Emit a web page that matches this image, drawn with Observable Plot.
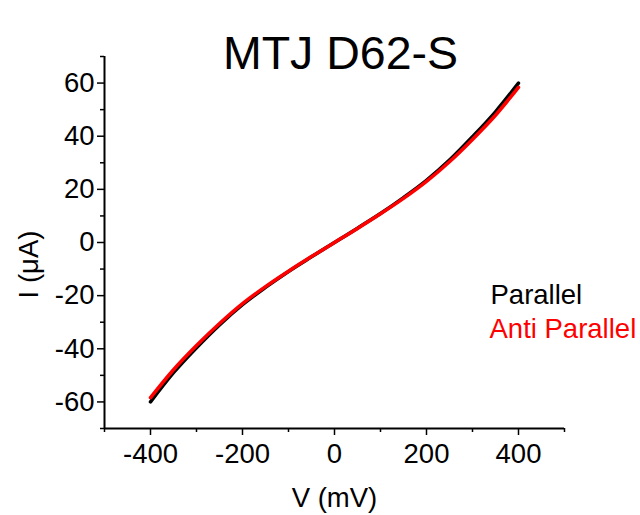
<!DOCTYPE html>
<html>
<head>
<meta charset="utf-8">
<script src="https://cdn.jsdelivr.net/npm/d3@7"></script>
<script src="https://cdn.jsdelivr.net/npm/@observablehq/plot@0.6"></script>
<style>
  html, body { margin: 0; padding: 0; background: #fff; }
  #chart svg { display: block; }
</style>
</head>
<body>
<div id="chart"></div>
<script>
const titleText = "MTJ D62-S";
const xLabel = "V (mV)";
const yLabel = "I (\u03BCA)";
const seriesNames = ["Parallel", "Anti Parallel"];
const seriesColors = ["#000000", "#ff0000"];

const voltage = [-400, -350, -300, -250, -200, -150, -100, -50, 0, 50, 100, 150, 200, 250, 300, 350, 400];
const iParallel = [-60.0, -49.0, -39.6, -31.0, -23.4, -16.9, -10.9, -5.4, 0, 5.4, 10.9, 16.9, 23.4, 31.0, 39.8, 49.2, 60.0];
const iAntiParallel = [-58.4, -47.9, -38.8, -30.5, -23.0, -16.6, -10.8, -5.3, 0, 5.3, 10.8, 16.6, 23.0, 30.4, 38.8, 47.9, 58.4];

const xMajorTicks = [-400, -200, 0, 200, 400];
const xMinorTicks = [-500, -300, -100, 100, 300, 500];
const yMajorTicks = [-60, -40, -20, 0, 20, 40, 60];
const yMinorTicks = [-70, -50, -30, -10, 10, 30, 50, 70];

const parallelData = voltage.map((v, i) => ({V: v, I: iParallel[i]}));
const antiData = voltage.map((v, i) => ({V: v, I: iAntiParallel[i]}));

const font = "'Liberation Sans', Arial, Helvetica, sans-serif";

const chart = Plot.plot({
  width: 640,
  height: 515,
  marginLeft: 104,
  marginRight: 76,
  marginTop: 56,
  marginBottom: 87,
  style: {fontFamily: font, fontSize: "27px", color: "#000", background: "#fff"},
  x: {domain: [-500, 500], label: null},
  y: {domain: [-70, 70], label: null},
  marks: [
    Plot.axisX({ticks: xMajorTicks, tickSize: 7, tickPadding: 8, fontSize: 27.5, strokeWidth: 1.5, label: null, tickFormat: d => String(d)}),
    Plot.axisX({ticks: xMinorTicks, tickSize: 4, strokeWidth: 1.5, text: null, label: null}),
    Plot.axisY({ticks: yMajorTicks, tickSize: 7, tickPadding: 3, fontSize: 27.5, strokeWidth: 1.5, label: null, tickFormat: d => String(d)}),
    Plot.axisY({ticks: yMinorTicks, tickSize: 4, strokeWidth: 1.5, text: null, label: null}),
    Plot.ruleX([-500], {y1: -70, y2: 70, stroke: "#000", strokeWidth: 2}),
    Plot.ruleY([-70], {x1: -500, x2: 500, stroke: "#000", strokeWidth: 2}),
    Plot.line(parallelData, {x: "V", y: "I", stroke: seriesColors[0], strokeWidth: 3.5, curve: "monotone-x"}),
    Plot.line(antiData, {x: "V", y: "I", stroke: seriesColors[1], strokeWidth: 3.5, curve: "monotone-x"}),
    Plot.text([titleText], {frameAnchor: "top-left", dx: 236, dy: 12.5, text: d => d, fontSize: 46.5, textAnchor: "middle", lineAnchor: "bottom", fill: "#000"}),
    Plot.text([xLabel], {frameAnchor: "bottom", dx: 0, dy: 78, text: d => d, fontSize: 27.5, textAnchor: "middle", lineAnchor: "bottom", fill: "#000"}),
    Plot.text([yLabel], {frameAnchor: "left", dx: -75, dy: 22, text: d => d, fontSize: 27.5, textAnchor: "middle", lineAnchor: "middle", rotate: -90, fill: "#000"}),
    Plot.text([seriesNames[0]], {frameAnchor: "top-left", dx: 386, dy: 247, text: d => d, fontSize: 27.5, textAnchor: "start", lineAnchor: "bottom", fill: seriesColors[0]}),
    Plot.text([seriesNames[1]], {frameAnchor: "top-left", dx: 385, dy: 281, text: d => d, fontSize: 27.5, textAnchor: "start", lineAnchor: "bottom", fill: seriesColors[1]})
  ]
});
document.getElementById("chart").appendChild(chart);
</script>
</body>
</html>
